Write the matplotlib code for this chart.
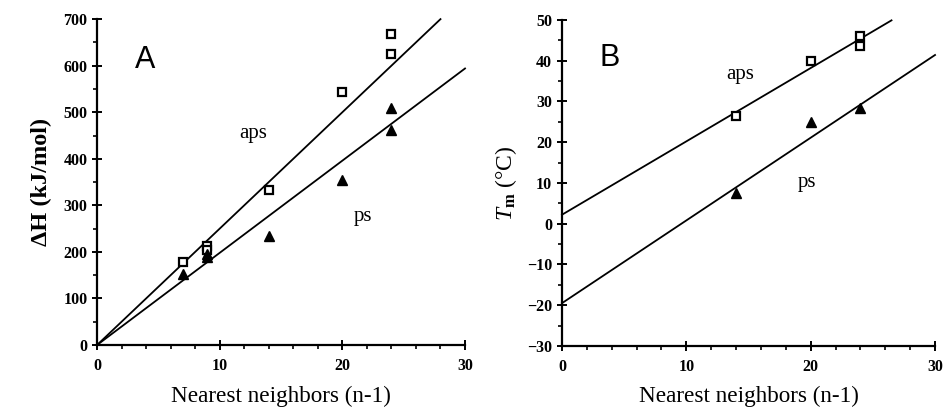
import matplotlib
matplotlib.use("Agg")
import matplotlib.pyplot as plt
import numpy as np
from matplotlib.ticker import MultipleLocator

plt.rcParams["mathtext.fontset"] = "custom"
plt.rcParams["mathtext.it"] = "Liberation Serif:italic"
plt.rcParams["mathtext.rm"] = "Liberation Serif"
plt.rcParams["mathtext.bf"] = "Liberation Serif:bold"

# Panel A data: enthalpy vs nearest neighbors
a_aps_x = [7, 9, 9, 14, 20, 24, 24]
a_aps_y = [178, 212, 205, 333, 543, 625, 667]
a_ps_x = [7, 9, 9, 14, 20, 24, 24]
a_ps_y = [152, 196, 188, 235, 355, 462, 510]
a_aps_fit = (25.0, 0.0)     # slope, intercept
a_ps_fit = (19.8, 0.0)
a_aps_xmax = 28.0
a_ps_xmax = 30.0

# Panel B data: Tm vs nearest neighbors
b_aps_x = [14, 20, 24, 24]
b_aps_y = [26.5, 40, 43.5, 46]
b_ps_x = [14, 20, 24]
b_ps_y = [7.5, 25, 28.5]
b_aps_fit = (1.80, 2.2)
b_ps_fit = (2.03, -19.5)
b_aps_xmax = 26.5
b_ps_xmax = 30.0

serif = "Liberation Serif"
sans = "Liberation Sans"

fig = plt.figure(figsize=(9.44, 4.07), dpi=100)
axA = fig.add_axes([0.1028, 0.1523, 0.3898, 0.8007])
axB = fig.add_axes([0.5953, 0.1500, 0.3952, 0.8010])


def style(ax, ylim, ymaj, ymin):
    ax.set_xlim(0, 30)
    ax.set_ylim(*ylim)
    for s in ("top", "right"):
        ax.spines[s].set_visible(False)
    for s in ("left", "bottom"):
        ax.spines[s].set_linewidth(1.6)
    ax.xaxis.set_major_locator(MultipleLocator(10))
    ax.xaxis.set_minor_locator(MultipleLocator(2))
    ax.yaxis.set_major_locator(MultipleLocator(ymaj))
    ax.yaxis.set_minor_locator(MultipleLocator(ymin))
    ax.tick_params(which="major", direction="inout", length=7, width=1.4,
                   labelsize=11.5)
    ax.tick_params(axis="x", which="major", pad=6)
    ax.tick_params(which="minor", direction="out", length=3, width=1.2)
    for lab in ax.get_xticklabels() + ax.get_yticklabels():
        lab.set_fontfamily(serif)
        lab.set_fontweight("bold")
    ax.set_xlabel("Nearest neighbors (n-1)", fontfamily=serif, fontsize=16.7,
                  labelpad=8)


def fit_line(ax, fit, xmax):
    xs = np.array([0, xmax])
    ax.plot(xs, fit[0] * xs + fit[1], color="black", lw=1.3, clip_on=False)


# Panel A
fit_line(axA, a_aps_fit, a_aps_xmax)
fit_line(axA, a_ps_fit, a_ps_xmax)
axA.plot(a_aps_x, a_aps_y, ls="none", marker="s", ms=6, mfc="white",
         mec="black", mew=1.6, zorder=3)
axA.plot(a_ps_x, a_ps_y, ls="none", marker="^", ms=6.5, color="black", zorder=3)
style(axA, (0, 700), 100, 50)
axA.set_ylabel("ΔH (kJ/mol)", fontfamily=serif, fontweight="bold",
               fontsize=17.5, labelpad=8)
axA.text(3.9, 612, "A", fontfamily=sans, fontsize=22, ha="center", va="center")
axA.text(12.7, 455, "aps", fontfamily=serif, fontsize=15, ha="center",
         va="center")
axA.text(21.7, 275, "ps", fontfamily=serif, fontsize=15, ha="center",
         va="center")

# Panel B
fit_line(axB, b_aps_fit, b_aps_xmax)
fit_line(axB, b_ps_fit, b_ps_xmax)
axB.plot(b_aps_x, b_aps_y, ls="none", marker="s", ms=6, mfc="white",
         mec="black", mew=1.6, zorder=3)
axB.plot(b_ps_x, b_ps_y, ls="none", marker="^", ms=6.5, color="black", zorder=3)
style(axB, (-30, 50), 10, 5)
axB.set_ylabel(r"$\mathit{T}_{\mathbf{m}}$ (°C)", fontfamily=serif,
               fontsize=17, labelpad=6)
axB.text(3.8, 40.7, "B", fontfamily=sans, fontsize=22, ha="center",
         va="center")
axB.text(14.3, 36.5, "aps", fontfamily=serif, fontsize=15, ha="center",
         va="center")
axB.text(19.7, 10, "ps", fontfamily=serif, fontsize=15, ha="center",
         va="center")

fig.savefig("out.png", dpi=100)
